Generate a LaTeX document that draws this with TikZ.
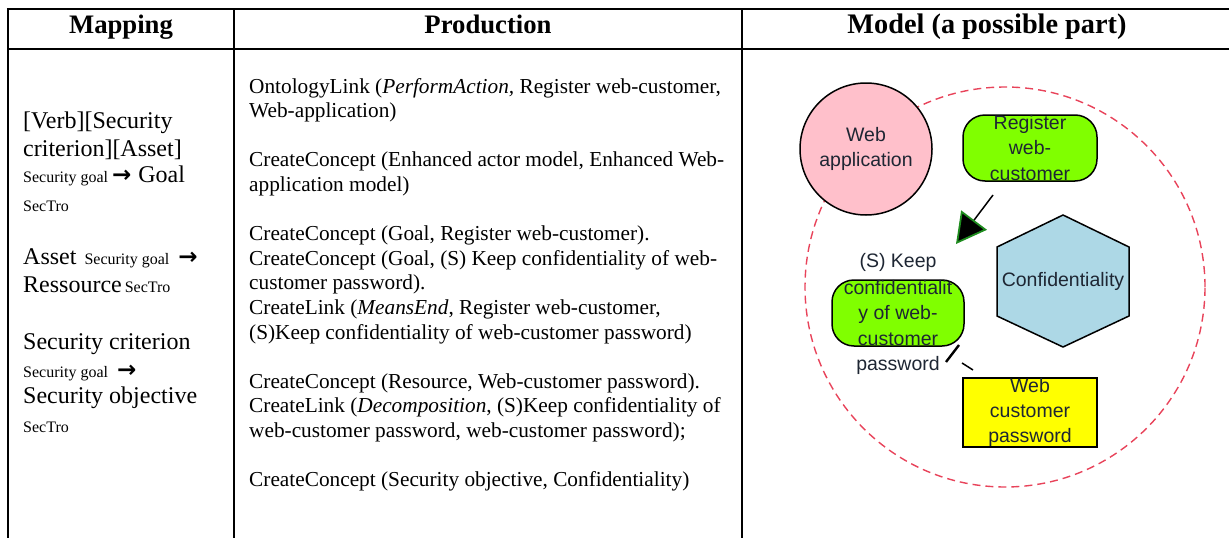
\documentclass[tikz,border=0pt]{standalone}
\usepackage{fontspec}
\setmainfont{Liberation Serif}
\newfontfamily\diagfont{Liberation Sans}
\newfontfamily\arrowfont{DejaVu Sans}
\usetikzlibrary{arrows.meta,calc}
\definecolor{pinkfill}{HTML}{FFC0CB}
\definecolor{goalgreen}{HTML}{80FF00}
\definecolor{hexblue}{HTML}{ADD8E6}
\definecolor{resyellow}{HTML}{FFFF00}
\definecolor{dashred}{HTML}{E8435A}
\definecolor{tipgreen}{HTML}{1E8C1E}
\definecolor{diagtext}{HTML}{1E2633}
\newcommand{\mysmall}[1]{{\fontsize{16}{18}\selectfont #1}}
\newcommand{\myarrow}{{\arrowfont\bfseries\fontsize{23}{26}\selectfont →}}
\begin{document}
\begin{tikzpicture}[x=1pt,y=-1pt,
  rule/.style={line width=2.5pt, black},
  headtxt/.style={anchor=base, inner sep=0, font=\bfseries\fontsize{26.7}{30}\selectfont},
  prodtxt/.style={anchor=base west, inner sep=0, font=\fontsize{21.3}{24.6}\selectfont},
  maptxt/.style={anchor=base west, inner sep=0, font=\fontsize{24}{28}\selectfont},
  mtext/.style={inner sep=0, align=center, text=diagtext, font=\diagfont\fontsize{19.5}{25.2}\selectfont},
  shapeline/.style={draw=black, line width=1.5pt},
]
\useasboundingbox (0,0) rectangle (1229,538);
% table rules
\draw[rule] (6.75,9) -- (1229,9);
\draw[rule, line width=2pt] (8,49) -- (1229,49);
\draw[rule] (8,9) -- (8,538);
\draw[rule] (234,9) -- (234,538);
\draw[rule] (742,9) -- (742,538);
% headers
\node[headtxt] (hmap) at (121,33) {Mapping};
\node[headtxt] (hprod) at (488,33) {Production};
\node[headtxt, font=\bfseries\fontsize{28.3}{32}\selectfont] (hmodel) at (987,34) {Model (a possible part)};
% mapping column
\node[maptxt] (m1) at (23,128) {[Verb][Security};
\node[maptxt] (m2) at (23,156) {criterion][Asset]};
\node[maptxt] (m3) at (23,182) {\mysmall{Security goal}\hspace{4pt}\myarrow\hspace{7pt}Goal};
\node[maptxt] (m4) at (23,211) {\mysmall{SecTro}};
\node[maptxt] (m5) at (23,264) {Asset\hspace{8pt}\mysmall{Security goal}\hspace{9pt}\myarrow};
\node[maptxt] (m6) at (23,292) {Ressource\hspace{3pt}\mysmall{SecTro}};
\node[maptxt] (m7) at (23,349) {Security criterion};
\node[maptxt] (m8) at (23,377) {\mysmall{Security goal}\hspace{9pt}\myarrow};
\node[maptxt] (m9) at (23,403) {Security objective};
\node[maptxt] (m10) at (23,432) {\mysmall{SecTro}};
% production column
\foreach \s/\t [count=\i] in {
  0/{OntologyLink (\textit{PerformAction,} Register web-customer,},
  1/{Web-application)},
  3/{CreateConcept (Enhanced actor model, Enhanced Web-},
  4/{application model)},
  6/{CreateConcept (Goal, Register web-customer).},
  7/{CreateConcept (Goal, (S) Keep confidentiality of web-},
  8/{customer password).},
  9/{CreateLink (\textit{MeansEnd}, Register web-customer,},
  10/{(S)Keep confidentiality of web-customer password)},
  12/{CreateConcept (Resource, Web-customer password).},
  13/{CreateLink (\textit{Decomposition}, (S)Keep confidentiality of},
  14/{web-customer password, web-customer password);},
  16/{CreateConcept (Security objective, Confidentiality)}}
  \node[prodtxt] (p\i) at (249,93+24.6*\s) {\t};
% model diagram
\node[circle, draw=dashred, line width=1.4pt, dash pattern=on 8pt off 5pt, minimum size=400pt, inner sep=0] (bound) at (1005,287) {};
\node[mtext, circle, shapeline, fill=pinkfill, minimum size=132pt] (webapp) at (866,149) {Web\\application};
\node[mtext, shapeline, fill=goalgreen, rounded corners=22pt, minimum width=134pt, minimum height=66pt] (reg) at (1030,148) {Register\\web-\\customer};
\node[mtext, shapeline, fill=goalgreen, rounded corners=22pt, minimum width=132pt, minimum height=66pt] (keep) at (898,313) {confidentialit\\y of web-\\customer};
\node[mtext] (keeptop) at (898,262) {(S) Keep};
\node[mtext] (keepbot) at (898,365) {password};
\path[shapeline, fill=hexblue] (1063,215) -- (1129,247) -- (1129,316) -- (1063,347) -- (997,316) -- (997,247) -- cycle;
\node[mtext] (conf) at (1063,281) {Confidentiality};
\node[mtext, shapeline, fill=resyellow, minimum width=134pt, minimum height=67pt] (pwd) at (1030,412.5) {Web\\customer\\password};
% means-end link
\coordinate (meS) at (993,195);
\coordinate (meE) at (956,244);
\draw[line width=1.5pt, -{Triangle[length=30pt, width=32pt, color=tipgreen, fill=black, line width=1.8pt]}] (meS) -- (meE);
% decomposition link
\coordinate (dA) at (973,370);
\coordinate (dB) at (962,363);
\draw[line width=1.5pt] (dA) -- (dB);
\coordinate (barA) at (959,345);
\coordinate (barB) at (946,362);
\draw[line width=2.4pt] (barA) -- (barB);
\end{tikzpicture}
\end{document}
